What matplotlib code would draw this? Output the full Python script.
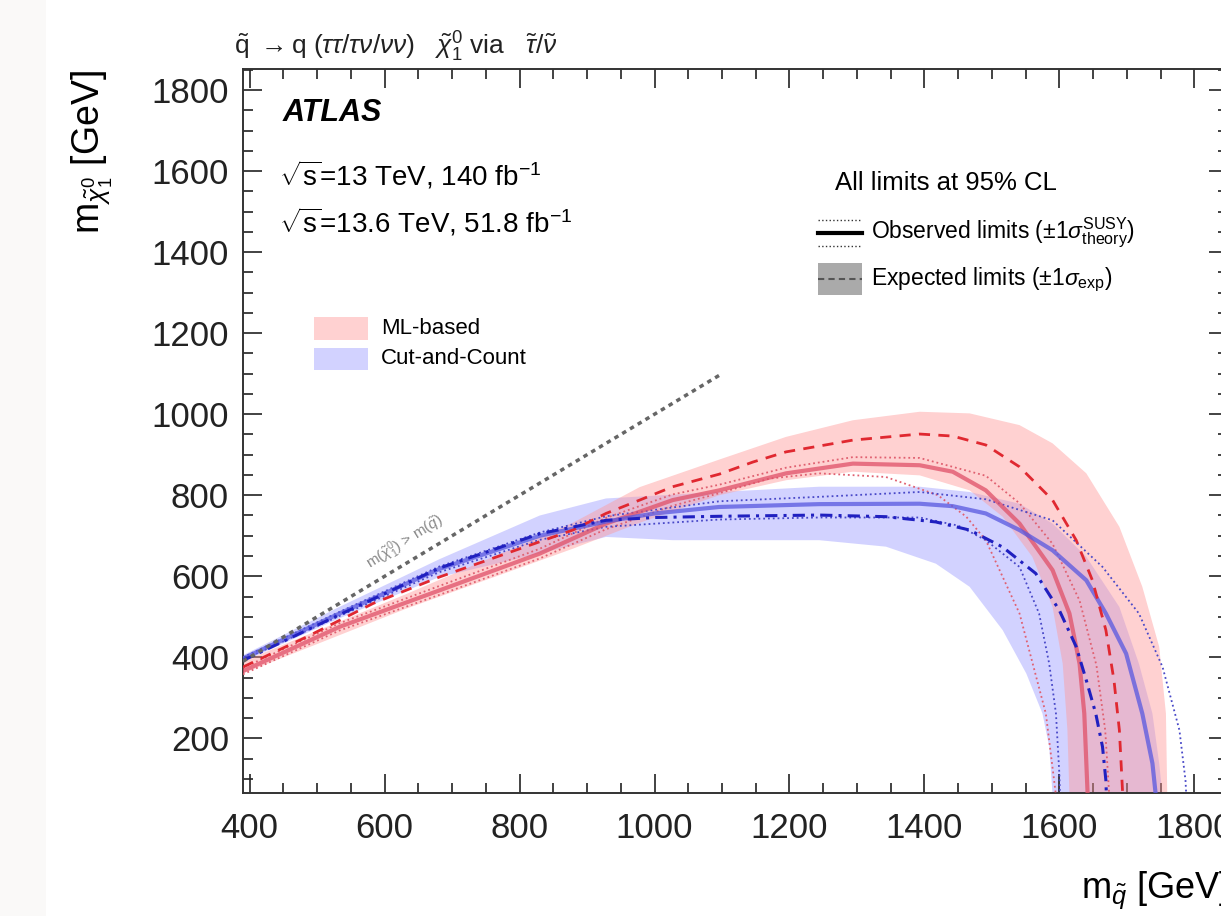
import matplotlib
matplotlib.use("Agg")
import matplotlib.pyplot as plt
from matplotlib.patches import Rectangle
from matplotlib.lines import Line2D
from matplotlib.ticker import MultipleLocator

plt.rcParams['font.family'] = ['Liberation Sans', 'DejaVu Sans']
plt.rcParams['mathtext.fontset'] = 'custom'
plt.rcParams['mathtext.rm'] = 'Liberation Sans'
plt.rcParams['mathtext.it'] = 'Liberation Sans:italic'
plt.rcParams['mathtext.bf'] = 'Liberation Sans:bold'

# ML-based limits (GeV)
ml_exp_x = [390, 484, 583, 681, 780, 879, 928, 978, 1027, 1096, 1146, 1195, 1294, 1393, 1442, 1491, 1541, 1590, 1625, 1649, 1669, 1681, 1689, 1694, 1697]
ml_exp_y = [376, 450, 533, 598, 656, 714, 755, 788, 821, 852, 882, 907, 936, 951, 946, 924, 870, 788, 689, 590, 467, 343, 220, 59, 0]
ml_obs_x = [390, 533, 681, 830, 928, 1027, 1096, 1195, 1294, 1393, 1442, 1491, 1541, 1590, 1615, 1630, 1637, 1642, 1644]
ml_obs_y = [366, 475, 565, 656, 730, 788, 812, 854, 878, 874, 858, 812, 730, 615, 508, 384, 261, 59, 0]
ml_band_up_x = [390, 632, 879, 978, 1096, 1195, 1294, 1393, 1467, 1541, 1590, 1640, 1689, 1723, 1748, 1758, 1760, 1761]
ml_band_up_y = [390, 556, 732, 820, 888, 944, 985, 1006, 1002, 973, 928, 854, 722, 574, 426, 261, 59, 0]
ml_band_lo_x = [390, 632, 879, 978, 1096, 1195, 1294, 1393, 1467, 1516, 1560, 1590, 1605, 1612, 1615, 1616]
ml_band_lo_y = [360, 520, 668, 732, 800, 837, 858, 849, 812, 747, 648, 524, 384, 220, 59, 0]
ml_th_up_x = [390, 533, 681, 830, 928, 1027, 1096, 1195, 1294, 1393, 1491, 1541, 1590, 1630, 1655, 1668, 1674, 1677]
ml_th_up_y = [374, 484, 576, 668, 744, 802, 826, 868, 894, 892, 848, 780, 680, 540, 380, 220, 59, 0]
ml_th_lo_x = [390, 533, 681, 830, 928, 1027, 1096, 1170, 1244, 1343, 1420, 1462, 1491, 1541, 1580, 1595, 1598]
ml_th_lo_y = [358, 466, 554, 644, 716, 774, 805, 841, 854, 845, 800, 747, 689, 508, 261, 59, 0]

# Cut-and-Count limits (GeV)
cc_exp_x = [390, 533, 681, 830, 928, 1000, 1096, 1244, 1343, 1417, 1467, 1516, 1565, 1600, 1625, 1640, 1654, 1664, 1669, 1671]
cc_exp_y = [392, 505, 620, 705, 738, 745, 748, 751, 747, 734, 714, 672, 607, 516, 426, 343, 261, 179, 96, 0]
cc_obs_x = [390, 533, 681, 830, 928, 1000, 1096, 1244, 1393, 1442, 1491, 1541, 1590, 1640, 1669, 1699, 1723, 1738, 1743, 1745]
cc_obs_y = [397, 508, 618, 700, 735, 755, 771, 778, 779, 773, 755, 714, 664, 590, 508, 409, 261, 138, 59, 0]
cc_band_up_x = [390, 530, 681, 830, 928, 1096, 1244, 1393, 1467, 1541, 1590, 1640, 1689, 1718, 1738, 1748, 1753, 1754]
cc_band_up_y = [405, 522, 642, 750, 792, 808, 821, 821, 808, 779, 730, 648, 524, 384, 261, 138, 59, 0]
cc_band_lo_x = [390, 530, 681, 830, 928, 1027, 1096, 1244, 1343, 1417, 1467, 1516, 1551, 1575, 1585, 1590, 1591]
cc_band_lo_y = [389, 494, 598, 656, 697, 689, 689, 689, 673, 631, 574, 467, 360, 261, 179, 59, 0]
cc_th_up_x = [390, 533, 681, 830, 928, 1096, 1244, 1393, 1491, 1590, 1664, 1718, 1753, 1778, 1787, 1790]
cc_th_up_y = [400, 512, 624, 708, 748, 785, 796, 808, 790, 738, 623, 508, 376, 220, 96, 0]
cc_th_lo_x = [390, 533, 681, 830, 928, 1096, 1244, 1393, 1450, 1491, 1541, 1570, 1585, 1595, 1600, 1602]
cc_th_lo_y = [394, 502, 610, 690, 722, 740, 745, 745, 725, 689, 623, 508, 384, 261, 113, 0]

# kinematic limit m(chi) = m(squark)
diag_x = [390, 1100]
diag_y = [390, 1100]

W, H = 1221, 916


def fx(px):
    return px / W


def fy(py):
    return 1 - py / H


fig = plt.figure(figsize=(W / 100, H / 100), dpi=100)
fig.add_artist(Rectangle((0, 0), fx(46), 1, transform=fig.transFigure,
                         facecolor='#faf9f8', edgecolor='none', zorder=-5))

ax = fig.add_axes([fx(243), fy(793), (1228 - 243) / W, (793 - 69) / H])

red_band = '#ff9999'
blue_band = '#8080ff'

# bands (closed contours)
ax.fill(cc_band_up_x + cc_band_lo_x[::-1], cc_band_up_y + cc_band_lo_y[::-1],
        color=blue_band, alpha=0.35, lw=0, zorder=1)
ax.fill(ml_band_up_x + ml_band_lo_x[::-1], ml_band_up_y + ml_band_lo_y[::-1],
        color=red_band, alpha=0.45, lw=0, zorder=2)

# theory dotted
ax.plot(ml_th_up_x, ml_th_up_y, ':', color='#e06070', lw=1.3, zorder=3)
ax.plot(ml_th_lo_x, ml_th_lo_y, ':', color='#e06070', lw=1.3, zorder=3)
ax.plot(cc_th_up_x, cc_th_up_y, ':', color='#4848c8', lw=1.3, zorder=3)
ax.plot(cc_th_lo_x, cc_th_lo_y, ':', color='#4848c8', lw=1.3, zorder=3)

# observed
ax.plot(ml_obs_x, ml_obs_y, '-', color='#e05068', lw=3, alpha=0.75, zorder=4)
ax.plot(cc_obs_x, cc_obs_y, '-', color='#5858e0', lw=3, alpha=0.75, zorder=4)

# expected
ax.plot(ml_exp_x, ml_exp_y, color='#e02830', lw=2, dashes=(4, 3), zorder=5)
ax.plot(cc_exp_x, cc_exp_y, color='#2020c0', lw=2.2, dashes=(4, 2, 1, 2), zorder=5)

# diagonal
ax.plot(diag_x, diag_y, color='#666666', lw=2.5, dashes=(1.3, 1.3), zorder=6)
ax.text(630, 683, r'm($\tilde{\chi}^{0}_{1}$) > m($\tilde{q}$)', color='#8a8a8a',
        fontsize=11, rotation=32, ha='center', va='center', zorder=6)

ax.set_xlim(390, 1850)
ax.set_ylim(65, 1852)
ax.xaxis.set_minor_locator(MultipleLocator(50))
ax.yaxis.set_minor_locator(MultipleLocator(50))
ax.set_xticks(range(400, 1801, 200))
ax.set_yticks(range(200, 1801, 200))
ax.tick_params(which='both', direction='in', top=True, right=True, width=1.2, colors='#222222')
ax.tick_params(which='major', length=14)
ax.tick_params(which='minor', length=7)
ax.tick_params(axis='x', labelsize=25, pad=14)
ax.tick_params(axis='y', labelsize=25, pad=10)
for sp in ax.spines.values():
    sp.set_linewidth(1.4)
    sp.set_color('#333333')

# axis titles
fig.text(fx(92), fy(70), r'm$_{\tilde{\chi}^{0}_{1}}$ [GeV]', rotation=90,
         ha='center', va='top', fontsize=27)
fig.text(fx(1228), fy(890), r'm$_{\tilde{q}}$ [GeV]', ha='right', va='center', fontsize=26)

# header
fig.text(fx(234), fy(47),
         r'$\tilde{\mathrm{q}}$ $\rightarrow$q ($\tau\tau$/$\tau\nu$/$\nu\nu$)   $\tilde{\chi}^{0}_{1}$ via   $\tilde{\tau}$/$\tilde{\nu}$',
         ha='left', va='center', fontsize=19, color='#222222')

# ATLAS labels
fig.text(fx(283), fy(113), 'ATLAS', fontsize=22, fontweight='bold', fontstyle='italic',
         ha='left', va='center')
fig.text(fx(279), fy(175), r'$\sqrt{\mathrm{s}}$=13 TeV, 140 fb$^{-1}$', fontsize=20,
         ha='left', va='center')
fig.text(fx(279), fy(222), r'$\sqrt{\mathrm{s}}$=13.6 TeV, 51.8 fb$^{-1}$', fontsize=20,
         ha='left', va='center')

# ML / C&C legend
fig.add_artist(Rectangle((fx(314), fy(340)), fx(368) - fx(314), fy(317) - fy(340),
                         transform=fig.transFigure, facecolor=red_band, alpha=0.45, edgecolor='none'))
fig.add_artist(Rectangle((fx(314), fy(370)), fx(368) - fx(314), fy(348) - fy(370),
                         transform=fig.transFigure, facecolor=blue_band, alpha=0.35, edgecolor='none'))
fig.text(fx(381), fy(328), 'ML-based', fontsize=16, ha='left', va='center')
fig.text(fx(381), fy(359), 'Cut-and-Count', fontsize=16, ha='left', va='center')

# limits legend
fig.text(fx(835), fy(183), 'All limits at 95% CL', fontsize=18.5, ha='left', va='center')
fig.add_artist(Line2D([fx(818), fx(862)], [fy(220), fy(220)], transform=fig.transFigure,
                      color='#333333', lw=1, ls=':'))
fig.add_artist(Line2D([fx(818), fx(862)], [fy(233), fy(233)], transform=fig.transFigure,
                      color='black', lw=3))
fig.add_artist(Line2D([fx(818), fx(862)], [fy(246), fy(246)], transform=fig.transFigure,
                      color='#333333', lw=1, ls=':'))
fig.add_artist(Rectangle((fx(818), fy(295)), fx(862) - fx(818), fy(263) - fy(295),
                         transform=fig.transFigure, facecolor='#aaaaaa', edgecolor='none'))
fig.add_artist(Line2D([fx(818), fx(862)], [fy(279), fy(279)], transform=fig.transFigure,
                      color='#555555', lw=1.5, dashes=(3, 2)))
fig.text(fx(871), fy(233), r'Observed limits ($\pm$1$\sigma^{\mathrm{SUSY}}_{\mathrm{theory}}$)',
         fontsize=16.5, ha='left', va='center')
fig.text(fx(871), fy(280), r'Expected limits ($\pm$1$\sigma_{\mathrm{exp}}$)',
         fontsize=16.5, ha='left', va='center')

fig.savefig('out.png', dpi=100, facecolor='white')
